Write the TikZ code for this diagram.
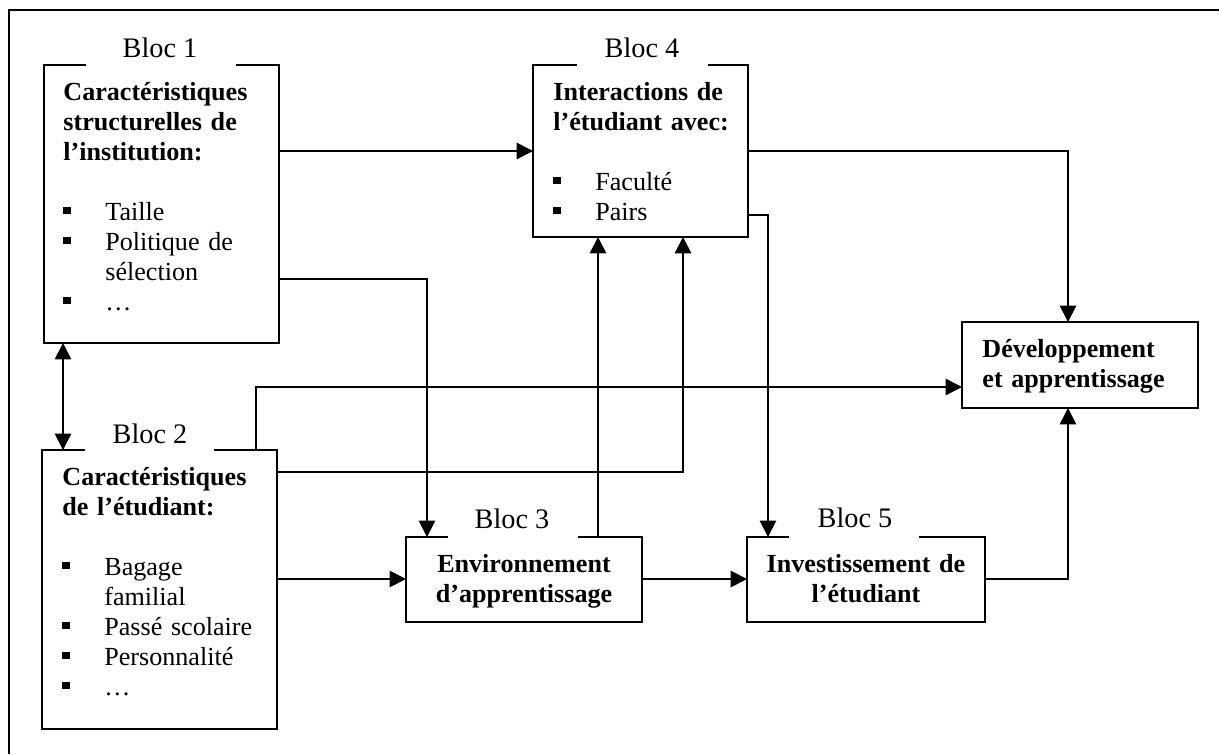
\documentclass[tikz,border=0pt]{standalone}
\usepackage{fontspec}
\setmainfont{Liberation Serif}
\usetikzlibrary{arrows.meta,fit}
\newcommand\bul{\makebox[19.3pt][l]{\rule[2.8pt]{3.4pt}{3.4pt}}}
\newcommand\blocoutline[3]{%
  \draw[boxline] (#2,0 |- #1.north) -- (#1.north west) -- (#1.south west)
    -- (#1.south east) -- (#1.north east) -- (#3,0 |- #1.north);}
\tikzset{
  frame/.style={line width=0.9pt},
  boxline/.style={line width=0.8pt, line join=miter},
  conn/.style={line width=0.8pt},
  arr/.style={conn,-{Triangle[length=7.5pt,width=7.5pt]}},
  dblarr/.style={conn,{Triangle[length=7.5pt,width=7.5pt]}-{Triangle[length=7.5pt,width=7.5pt]}},
  boxarea/.style={inner sep=0pt, outer sep=0pt},
  bloclabel/.style={font=\fontsize{13}{15}\selectfont, inner sep=0pt, anchor=base},
  ltext/.style={font=\fontsize{12}{13.8}\selectfont\bfseries, text width=150pt, align=left, inner sep=0pt, anchor=base west},
  ctext/.style={font=\fontsize{12}{13.8}\selectfont\bfseries, text width=120pt, align=center, inner sep=0pt, anchor=base},
}
\begin{document}
\begin{tikzpicture}[x=0.46pt,y=-0.46pt]
\useasboundingbox (0,0) rectangle (1219,754);
% partial outer frame
\draw[frame] (9,754) -- (9,10) -- (1219,10);

% box areas
\node[boxarea, fit={(44,65)(279,343)}] (b1) {};
\node[boxarea, fit={(42,450)(277,729)}] (b2) {};
\node[boxarea, fit={(406,537)(642,622)}] (b3) {};
\node[boxarea, fit={(533,65)(748,237)}] (b4) {};
\node[boxarea, fit={(747,537)(985,622)}] (b5) {};
\node[boxarea, fit={(962,322)(1198,408)}] (dev) {};

\blocoutline{b1}{86}{236}
\blocoutline{b2}{85}{214}
\blocoutline{b3}{448}{578}
\blocoutline{b4}{577}{708}
\blocoutline{b5}{789}{919}
\draw[boxline] (dev.north west) rectangle (dev.south east);

% block labels
\node[bloclabel] (l1) at (160,57) {Bloc 1};
\node[bloclabel] (l2) at (150,443) {Bloc 2};
\node[bloclabel] (l3) at (512,528) {Bloc 3};
\node[bloclabel] (l4) at (642,57) {Bloc 4};
\node[bloclabel] (l5) at (855,527) {Bloc 5};

% texts
\node[ltext] (t1) at (63,100) {Caractéristiques\\structurelles de\\l’institution:\\[13.8pt]\mdseries\bul Taille\\\bul Politique de\\\hspace*{19.3pt}sélection\\\bul …};
\node[ltext] (t2) at (62,485) {Caractéristiques\\de l’étudiant:\\[13.8pt]\mdseries\bul Bagage\\\hspace*{19.3pt}familial\\\bul Passé scolaire\\\bul Personnalité\\\bul …};
\node[ltext] (t4) at (553,100) {Interactions de\\l’étudiant avec:\\[13.8pt]\mdseries\bul Faculté\\\bul Pairs};
\node[ctext] (t3) at (524,572) {Environnement\\d’apprentissage};
\node[ctext] (t5) at (866,572) {Investissement de\\l’étudiant};
\node[ltext] (td) at (982,357) {Développement\\et apprentissage};

% connectors
\draw[dblarr] (b1.south -| 63,0) -- (b2.north -| 63,0);
\draw[arr] (b1.east |- 0,151) -- (b4.west |- 0,151);
\draw[arr] (b1.east |- 0,279) -| (b3.north -| 427,0);
\draw[arr] (b4.east |- 0,151) -| (dev.north -| 1068,0);
\draw[arr] (b4.east |- 0,215) -| (b5.north -| 768,0);
\draw[arr] (b3.north -| 598,0) -- (b4.south -| 598,0);
\draw[arr] (b2.east |- 0,472) -| (b4.south -| 683,0);
\draw[arr] (b2.north -| 256,0) |- (dev.west |- 0,387);
\draw[arr] (b2.east |- 0,579) -- (b3.west |- 0,579);
\draw[arr] (b3.east |- 0,579) -- (b5.west |- 0,579);
\draw[arr] (b5.east |- 0,579) -| (dev.south -| 1068,0);
\end{tikzpicture}
\end{document}
